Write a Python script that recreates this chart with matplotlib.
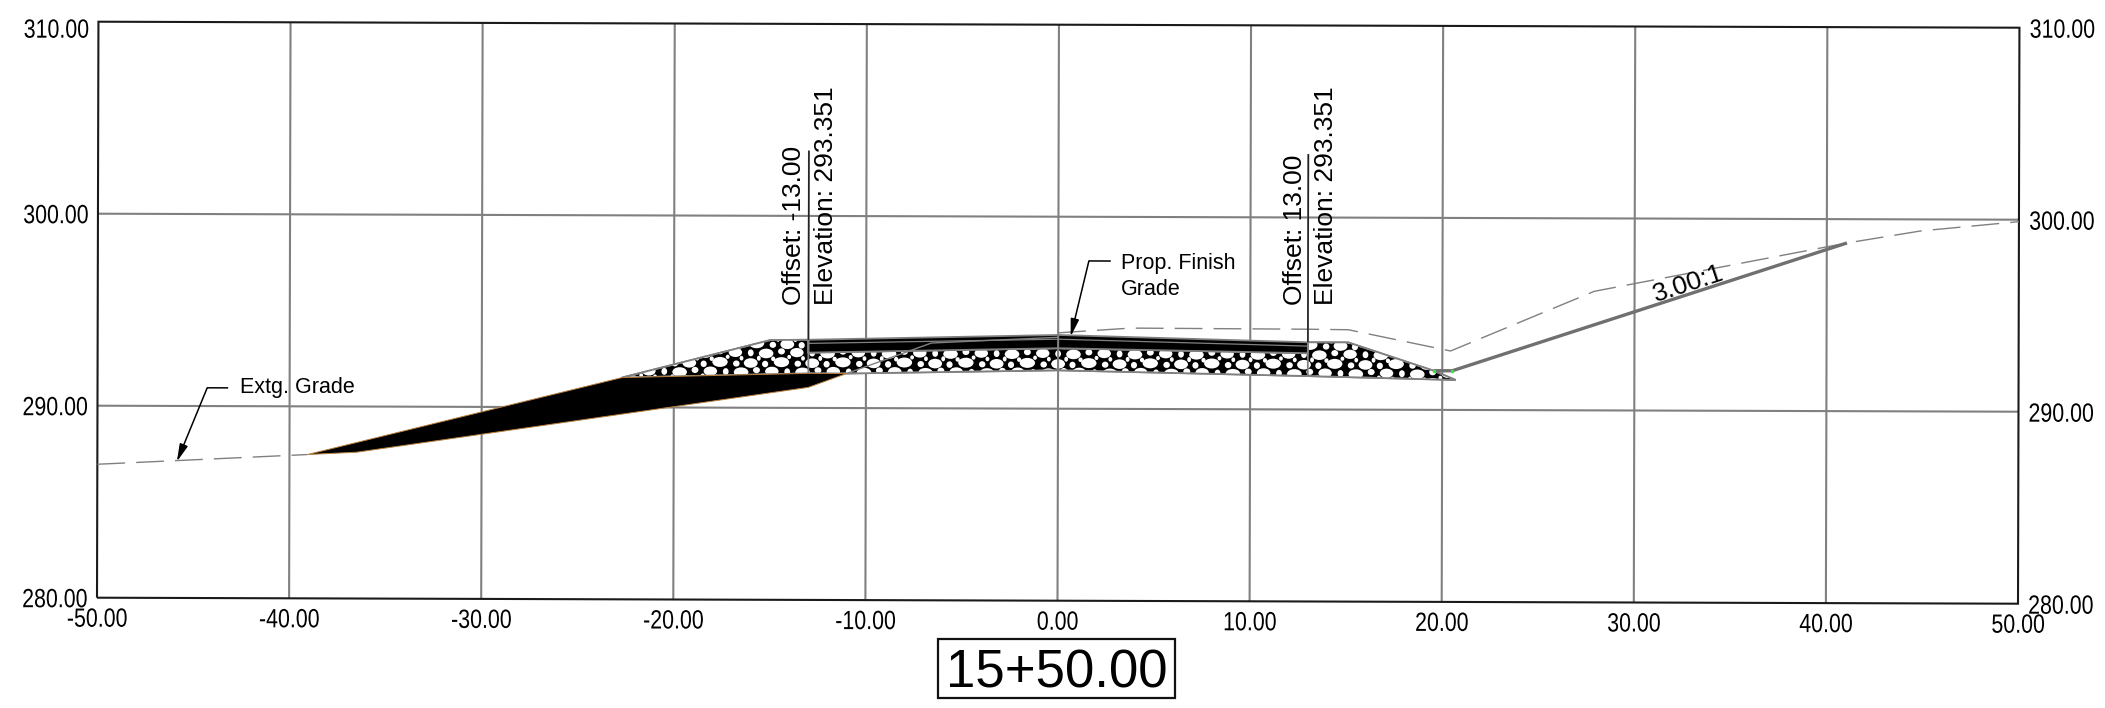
import matplotlib
matplotlib.use("Agg")
import matplotlib.pyplot as plt
from matplotlib.patches import Polygon, Ellipse, Rectangle
from matplotlib.patheffects import AbstractPathEffect
from matplotlib.collections import PatchCollection
from matplotlib.transforms import Affine2D

# ---- data ----
x_ticks = [-50, -40, -30, -20, -10, 0, 10, 20, 30, 40, 50]
y_ticks = [280, 290, 300, 310]
x_grid = [-40, -30, -20, -10, 0, 10, 20, 30, 40]
y_grid = [290, 300]

extg_x = [-50, -39.07]
extg_y = [286.95, 287.49]
extg2_x = [0, 1.43, 3.77, 13, 15.1, 20.43, 27.9, 41.05, 44.9, 50]
extg2_y = [293.95, 294.05, 294.21, 294.18, 294.16, 293.07, 296.2, 298.76, 299.4, 299.9]

wedge_x = [-39.07, -36.5, -13, -11, -13, -22.7]
wedge_y = [287.49, 287.62, 291.07, 291.8, 291.8, 291.55]

agg_x = [-22.7, -14.97, -13, -13, 0, 13, 13, 15.1, 19.55, 20.7, 13, 0, -11, -13]
agg_y = [291.55, 293.53, 293.55, 292.88, 293.15, 292.93, 293.5, 293.5, 292.04, 291.56, 291.74, 292.0, 291.8, 291.8]

pave_x = [-13, 0, 13, 13, 0, -13]
pave_y = [293.55, 293.84, 293.5, 292.93, 293.15, 292.88]

binder_x = [-13, 0, 13]
binder_y = [293.36, 293.62, 293.3]
seam_x = [-11, -6.6, 0]
seam_y = [291.8, 293.4, 293.72]
slope_x = [19.55, 20.52, 41.05]
slope_y = [292.04, 292.04, 298.76]

leader_left_y = [291.8, 303.4]
leader_right_y = [291.74, 303.3]
offset_labels = ["Offset: -13.00", "Offset: 13.00"]
elev_labels = ["Elevation: 293.351", "Elevation: 293.351"]

prop_x = [2.73, 1.59, 0.65]
prop_y = [297.7, 297.7, 293.76]
extl_x = [-43.2, -44.29, -45.86]
extl_y = [290.95, 290.95, 287.1]

station = "15+50.00"
slope_text = "3.00:1"

# one repeating tile of the gravel texture (x, y, w, h), in drawing units
gravel_tile = [
    (0.3, 0.25, .72, .5), (1.9, 0.3, .8, .52), (1.1, 0.75, .76, .5), (2.7, .8, .7, .48),
    (1.05, .2, .32, .34), (2.75, .22, .34, .32), (0.3, .78, .3, .36), (1.9, .86, .36, .32),
    (.72, .5, .2, .26), (1.47, .47, .22, .24), (2.3, .57, .2, .22), (3.02, .5, .2, .24),
]

# ---- layout ----
W, H = 2105, 708
SX, SY = 19.21, 19.2
X0, Y0 = 97, 597.7
GREY = "#808080"

plt.rcParams["lines.scale_dashes"] = False
SANS = ["Liberation Sans"]


class Condense(AbstractPathEffect):
    """Draw a text narrower than its font, as the plotted sheet does."""

    def __init__(self, fx, anchor):
        super().__init__()
        self.fx, self.anchor = fx, anchor

    def draw_path(self, renderer, gc, tpath, affine, rgbFace=None):
        e = tpath.get_extents()
        a = {"left": e.x0, "center": (e.x0 + e.x1) / 2, "right": e.x1}[self.anchor]
        squeeze = Affine2D().translate(-a, 0).scale(self.fx, 1).translate(a, 0)
        renderer.draw_path(gc, tpath, squeeze + affine, rgbFace)


fig = plt.figure(figsize=(W / 100, H / 100), dpi=100)
ax = fig.add_axes([0, 0, 1, 1])
ax.set_xlim(-50 - X0 / SX, -50 + (W - X0) / SX)
ax.set_ylim(280 - (H - Y0) / SY, 280 + Y0 / SY)
ax.axis("off")

# the sheet is very slightly rotated
tr = Affine2D().from_values(1, -0.003125, 0.0025, 1, -0.7, -0.15625) + ax.transData


def line(xs, ys, **kw):
    kw.setdefault("solid_capstyle", "butt")
    ax.plot(xs, ys, transform=tr, clip_on=False, **kw)


# grid and frame
for gx in x_grid:
    line([gx, gx], [280, 310], color=GREY, lw=1.5, zorder=1)
for gy in y_grid:
    line([-50, 50], [gy, gy], color=GREY, lw=1.5, zorder=1)
line([-50, 50, 50, -50, -50], [280, 280, 310, 310, 280], color="#1a1a1a", lw=1.5, zorder=2,
     solid_joinstyle="miter")

# existing grade
for xs, ys in ((extg_x, extg_y), (extg2_x, extg2_y)):
    ax.plot(xs, ys, transform=tr, color=GREY, lw=1.0, dashes=(20, 8), zorder=3)

# gravel
agg = Polygon(list(zip(agg_x, agg_y)), closed=True, fc="black", ec=GREY, lw=1.3, transform=tr, zorder=4)
ax.add_patch(agg)
stones = []
for row in range(-1, 4):
    for col in range(-1, 15):
        for (tx, ty, tw, th) in gravel_tile:
            shift = 1.3 * (row % 2)
            stones.append(Ellipse((-24 + 3.2 * col + shift + tx, 291.1 + 0.98 * row + ty), tw, th))
pc = PatchCollection(stones, facecolor="white", edgecolor="none", transform=tr, zorder=5)
ax.add_collection(pc)
pc.set_clip_path(agg)
ax.add_patch(Polygon(list(zip(agg_x, agg_y)), closed=True, fc="none", ec=GREY, lw=1.3, transform=tr, zorder=6))

# black wedge of fill
ax.add_patch(Polygon(list(zip(wedge_x, wedge_y)), closed=True, fc="black", ec="#b9803f", lw=0.7,
                     transform=tr, zorder=7))

# pavement
ax.add_patch(Polygon(list(zip(pave_x, pave_y)), closed=True, fc="black", ec=GREY, lw=1.3, transform=tr, zorder=7))
line(binder_x, binder_y, color=GREY, lw=0.9, zorder=8)
line(seam_x, seam_y, color=GREY, lw=1.0, zorder=8)
line([0, 0], [292.0, 293.84], color=GREY, lw=1.5, zorder=8)
line([-13, -13], leader_left_y, color=GREY, lw=1.3, zorder=8)
line([13, 13], leader_right_y, color=GREY, lw=1.3, zorder=8)

# slope
line(slope_x, slope_y, color="#707070", lw=2.4, zorder=8)
ax.plot([slope_x[0], slope_x[1]], [slope_y[0], slope_y[1]], ls="none", marker=".", ms=3,
        color="#40e040", transform=tr, zorder=9)

# station leaders
line([-13, -13], [293.55, leader_left_y[1]], color="#222222", lw=1.1, zorder=9)
line([13, 13], [293.5, leader_right_y[1]], color="#222222", lw=1.1, zorder=9)

# callouts
for xs, ys in ((prop_x, prop_y), (extl_x, extl_y)):
    line(xs[:2], ys[:2], color="black", lw=1.1, zorder=9)
    ax.annotate("", xy=(xs[2], ys[2]), xycoords=tr, xytext=(xs[1], ys[1]), textcoords=tr,
                arrowprops=dict(arrowstyle="-|>,head_length=0.75,head_width=0.18", color="black",
                                lw=1.1, shrinkA=0, shrinkB=0, mutation_scale=14), zorder=9)


def ftext(px, py, s, **kw):
    kw.setdefault("color", "black")
    kw.setdefault("family", SANS)
    return fig.text(px / W, 1 - py / H, s, **kw)


ftext(1121, 269, "Prop. Finish", fontsize=15.5, va="baseline")
ftext(1121, 295, "Grade", fontsize=15.5, va="baseline")
ftext(240, 393, "Extg. Grade", fontsize=15.5, va="baseline")

for px, s in ((794, offset_labels[0]), (1295, offset_labels[1])):
    ftext(px, 305, s, fontsize=19, rotation=90, ha="center", va="bottom")
for px, s in ((826, elev_labels[0]), (1326, elev_labels[1])):
    ftext(px, 305, s, fontsize=19, rotation=90, ha="center", va="bottom")

ftext(1688, 284, slope_text, fontsize=19, rotation=18.3, ha="center", va="center", rotation_mode="anchor")

fig.add_artist(Rectangle((938 / W, 1 - 697.7 / H), 237 / W, 58.7 / H, transform=fig.transFigure,
                         fc="white", ec="#111111", lw=1.6))
ftext(1056.5, 687.7, station, fontsize=38, ha="center", va="baseline", zorder=5)


def tick(s, xy, dx, dy, ha):
    t = ax.annotate(s, xy=xy, xycoords=tr, xytext=(dx, dy), textcoords="offset pixels", ha=ha, va="baseline",
                    fontsize=19, family=SANS, color="black", annotation_clip=False)
    t.set_path_effects([Condense(0.81, ha)])


for v in y_ticks:
    s = f"{v:.2f}"
    extra = -6.5 if v == y_ticks[-1] else 0
    tick(s, (-50, v), -9.5, -9.5 + extra, "right")
    tick(s, (50, v), 75.5, -10, "right")
for v in x_ticks:
    tick(f"{v:.2f}", (v, 280), 0, -29, "center")

fig.savefig("out.png", dpi=100, facecolor="white")
